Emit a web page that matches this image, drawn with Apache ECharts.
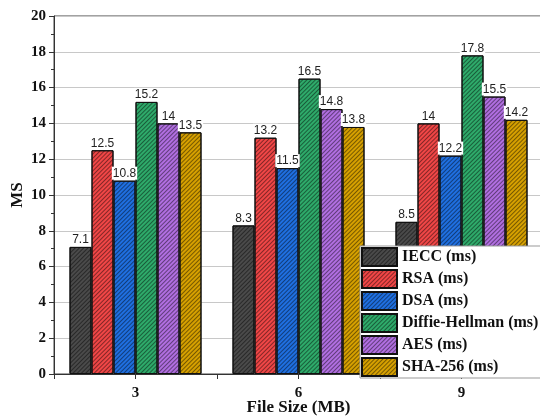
<!DOCTYPE html>
<html>
<head>
<meta charset="utf-8">
<script src="https://cdn.jsdelivr.net/npm/echarts@6/dist/echarts.min.js"></script>
<style>html,body{margin:0;padding:0;background:#fff}#c{width:540px;height:416px}</style>
</head>
<body>
<div id="c"></div>
<script>
var categories = ['3', '6', '9'];
var seriesNames = ['IECC (ms)', 'RSA (ms)', 'DSA (ms)', 'Diffie-Hellman (ms)', 'AES (ms)', 'SHA-256 (ms)'];
var iecc = [7.1, 8.3, 8.5];
var rsa = [12.5, 13.2, 14];
var dsa = [10.8, 11.5, 12.2];
var dh = [15.2, 16.5, 17.8];
var aes = [14, 14.8, 15.5];
var sha = [13.5, 13.8, 14.2];
var colors = ['#4a4a4a', '#f04646', '#1f6fe0', '#2eaa6a', '#b06ee0', '#d6a000'];
var values = [iecc, rsa, dsa, dh, aes, sha];

var serif = '"Liberation Serif", "Times New Roman", serif';
var chart = echarts.init(document.getElementById('c'));
var series = seriesNames.map(function (n, i) {
  return {
    name: n,
    type: 'bar',
    data: values[i],
    barWidth: 22,
    barGap: '0%',
    itemStyle: {
      color: colors[i],
      borderColor: '#111',
      borderWidth: 1,
      decal: {
        symbol: 'rect',
        symbolSize: 1,
        dashArrayX: [1, 0],
        dashArrayY: [1, 2],
        rotation: -Math.PI / 4,
        color: 'rgba(0,0,0,0.45)'
      }
    },
    label: {
      show: true,
      position: 'top',
      distance: 1,
      fontFamily: '"Liberation Sans", Arial, sans-serif',
      fontSize: 12,
      color: '#222',
      backgroundColor: '#fff',
      padding: [1, 1, 0, 1]
    }
  };
});

chart.setOption({
  animation: false,
  grid: { left: 54, right: -3, top: 16, bottom: 42, containLabel: false, outerBoundsMode: 'none', show: true, borderColor: '#444', borderWidth: 1 },
  legend: {
    orient: 'vertical',
    left: 360,
    top: 246,
    padding: [1, 4, 1, 1],
    itemGap: 2,
    itemWidth: 35,
    itemHeight: 18,
    icon: 'rect',
    backgroundColor: '#fff',
    borderColor: '#999',
    borderWidth: 1,
    textStyle: { fontFamily: serif, fontWeight: 'bold', fontSize: 16, color: '#111', lineHeight: 18 },
    data: seriesNames
  },
  xAxis: [{
    type: 'category',
    data: categories,
    boundaryGap: true,
    name: 'File Size (MB)',
    nameLocation: 'middle',
    nameGap: 25,
    nameMoveOverlap: false,
    nameTextStyle: { fontFamily: serif, fontWeight: 'bold', fontSize: 17, color: '#111' },
    axisLine: { lineStyle: { color: '#333', width: 1 } },
    axisTick: { show: true, inside: false, length: 5, lineStyle: { color: '#333' } },
    axisLabel: { fontFamily: serif, fontWeight: 'bold', fontSize: 15, color: '#111', margin: 12 }
  }, {
    type: 'category',
    data: categories,
    position: 'bottom',
    boundaryGap: true,
    axisLine: { show: false },
    axisTick: { show: true, alignWithLabel: true, length: 5, lineStyle: { color: '#333' } },
    axisLabel: { show: false }
  }],
  yAxis: {
    type: 'value',
    min: 0,
    max: 20,
    interval: 2,
    name: 'MS',
    nameLocation: 'middle',
    nameGap: 28,
    nameMoveOverlap: false,
    nameTextStyle: { fontFamily: serif, fontWeight: 'bold', fontSize: 17, color: '#111' },
    axisLine: { show: true, lineStyle: { color: '#333', width: 1 } },
    axisTick: { show: true, length: 5, lineStyle: { color: '#333' } },
    minorTick: { show: true, splitNumber: 2, length: 3, lineStyle: { color: '#333' } },
    axisLabel: { fontFamily: serif, fontWeight: 'bold', fontSize: 15, color: '#111', margin: 8 },
    splitLine: { show: true, lineStyle: { color: '#c8c8c8', width: 1 } }
  },
  series: series
});
</script>
</body>
</html>
